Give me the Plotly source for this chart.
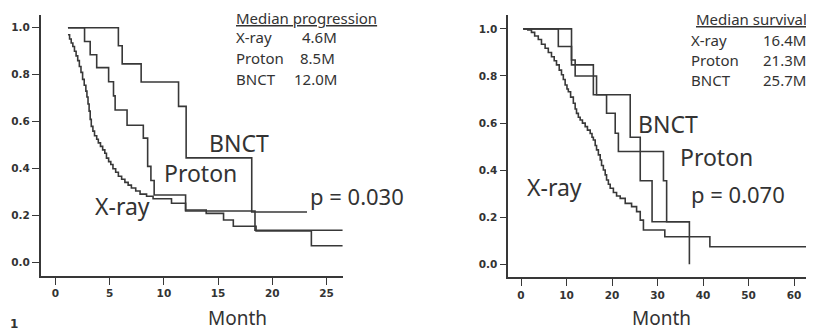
import plotly.graph_objects as go

# ---------------- data ----------------
# Left panel: progression-free (months, proportion)
prog_xray_t = [1.15, 1.3, 1.45, 1.6, 1.75, 1.9, 2.05, 2.2, 2.35, 2.5, 2.65, 2.8, 2.9, 3.0, 3.1,
               3.2, 3.3, 3.45, 3.6, 3.8, 3.95, 4.15, 4.35, 4.55, 4.7, 4.9, 5.1, 5.3, 5.55, 5.8,
               6.1, 6.4, 6.7, 7.0, 7.4, 7.8, 8.4, 9.0, 10.7, 12.0, 13.9, 15.5, 16.4, 18.5, 23.6, 26.5]
prog_xray_s = [0.97, 0.952, 0.935, 0.92, 0.90, 0.88, 0.86, 0.835, 0.81, 0.78, 0.755, 0.73, 0.705, 0.675, 0.645,
               0.61, 0.58, 0.56, 0.54, 0.525, 0.51, 0.495, 0.48, 0.466, 0.445, 0.43, 0.418, 0.40, 0.385, 0.368,
               0.355, 0.342, 0.33, 0.318, 0.305, 0.292, 0.283, 0.272, 0.253, 0.224, 0.21, 0.182, 0.155, 0.135, 0.072, 0.072]

prog_proton_t = [1.15, 2.68, 3.2, 3.8, 4.9, 5.35, 5.5, 6.6, 8.1, 8.5, 8.8, 9.1, 12.0, 18.4, 26.5]
prog_proton_s = [1.0, 0.941, 0.885, 0.83, 0.77, 0.71, 0.65, 0.585, 0.53, 0.41, 0.35, 0.288, 0.22, 0.138, 0.138]

prog_bnct_t = [1.15, 5.8, 6.15, 7.9, 11.35, 12.05, 18.1, 23.2]
prog_bnct_s = [1.0, 0.923, 0.846, 0.769, 0.665, 0.446, 0.216, 0.216]

# Right panel: overall survival (months, proportion)
surv_xray_t = [0.5, 1.5, 2.3, 3.0, 3.8, 4.5, 5.3, 6.0, 6.7, 7.3, 7.8, 8.4, 8.9, 9.3, 9.7, 10.1, 10.4,
               10.9, 11.5, 11.9, 12.2, 12.6, 13.0, 13.5, 14.1, 14.6, 15.2, 15.6, 15.9, 16.3, 16.6,
               17.0, 17.4, 17.7, 18.1, 18.5, 18.8, 19.2, 19.6, 20.3, 21.0, 21.8, 22.9, 24.3, 25.4,
               26.2, 26.9, 31.6, 41.5, 63.5]
surv_xray_s = [1.0, 0.995, 0.985, 0.97, 0.955, 0.935, 0.918, 0.90, 0.882, 0.865, 0.847, 0.825, 0.805, 0.785,
               0.762, 0.745, 0.733, 0.71, 0.684, 0.66, 0.641, 0.625, 0.613, 0.60, 0.585, 0.57, 0.556, 0.54,
               0.528, 0.505, 0.486, 0.465, 0.443, 0.42, 0.401, 0.38, 0.358, 0.34, 0.323, 0.305, 0.29,
               0.28, 0.259, 0.245, 0.224, 0.188, 0.146, 0.117, 0.075, 0.075]

surv_proton_t = [0.5, 11.1, 11.9, 16.6, 18.8, 20.7, 21.4, 31.3, 32.0, 37.0]
surv_proton_s = [1.0, 0.868, 0.80, 0.72, 0.642, 0.557, 0.479, 0.355, 0.181, 0.181]

surv_bnct_t = [0.5, 8.2, 11.1, 15.9, 24.0, 26.2, 28.8, 37.0]
surv_bnct_s = [1.0, 0.925, 0.847, 0.72, 0.54, 0.355, 0.181, 0.0]

y_ticks = [0.0, 0.2, 0.4, 0.6, 0.8, 1.0]
prog_x_ticks = [0, 5, 10, 15, 20, 25]
surv_x_ticks = [0, 10, 20, 30, 40, 50, 60]

prog_table = [("X-ray", "4.6M"), ("Proton", "8.5M"), ("BNCT", "12.0M")]
surv_table = [("X-ray", "16.4M"), ("Proton", "21.3M"), ("BNCT", "25.7M")]

# ---------------- figure ----------------
# The page body has an 8px margin, so the figure is sized/placed to compensate.
OFF = 8
W, H = 814 - OFF, 333 - OFF
def PX(x): return (x - OFF) / W
def PY(y): return 1 - (y - OFF) / H

INK = "#383838"
fig = go.Figure()

def add_curve(t, s, xa, ya):
    fig.add_trace(go.Scatter(x=t, y=s, mode="lines", xaxis=xa, yaxis=ya,
                             line=dict(shape="hv", color=INK, width=1.6),
                             showlegend=False, hoverinfo="skip"))

add_curve(prog_xray_t, prog_xray_s, "x", "y")
add_curve(prog_proton_t, prog_proton_s, "x", "y")
add_curve(prog_bnct_t, prog_bnct_s, "x", "y")
add_curve(surv_xray_t, surv_xray_s, "x2", "y2")
add_curve(surv_proton_t, surv_proton_s, "x2", "y2")
add_curve(surv_bnct_t, surv_bnct_s, "x2", "y2")

tickfont = dict(family="DejaVu Sans", size=10.5, color="#333333", weight="bold")
axis_common = dict(showline=True, linecolor=INK, linewidth=1.6, ticks="outside",
                   ticklen=7, tickwidth=1.4, tickcolor=INK, showgrid=False,
                   zeroline=False, tickfont=tickfont, fixedrange=True, automargin=False)

fig.update_layout(
    width=W, height=H, margin=dict(l=0, r=0, t=0, b=0),
    paper_bgcolor="white", plot_bgcolor="white",
    xaxis=dict(domain=[PX(40.7), PX(342.7)], range=[-1.365, 26.49], anchor="y",
               tickvals=prog_x_ticks, **axis_common),
    yaxis=dict(domain=[PY(276), PY(15)], range=[-0.0566, 1.054], anchor="x",
               tickvals=y_ticks, tickformat=".1f", **axis_common),
    xaxis2=dict(domain=[PX(508.3), PX(810)], range=[-2.79, 63.5], anchor="y2",
                tickvals=surv_x_ticks, **axis_common),
    yaxis2=dict(domain=[PY(277.3), PY(15)], range=[-0.055, 1.059], anchor="x2",
                tickvals=y_ticks, tickformat=".1f", **axis_common),
)

big = dict(family="Noto Sans", size=23, color="#333333")
mid = dict(family="Noto Sans", size=22, color="#333333")
small = dict(family="Noto Sans", size=15, color="#333333")
title_font = dict(family="Noto Sans", size=19, color="#333333")

anns = []
def ann(text, x, y, font, xanchor="center", yanchor="middle"):
    anns.append(dict(text=text, x=PX(x), y=PY(y), xref="paper", yref="paper",
                     showarrow=False, font=font, xanchor=xanchor, yanchor=yanchor))

# Left panel labels
ann("BNCT", 239, 142.5, big)
ann("Proton", 200, 173, big)
ann("X-ray", 122, 206, big)
ann("p = 0.030", 356.5, 196, mid)
ann("Month", 237.5, 318, title_font)
ann("<u>Median progression</u>", 234, 18, small, xanchor="left")
for i, (name, val) in enumerate(prog_table):
    yy = 37 + i * 21
    ann(name, 234, yy, small, xanchor="left")
    ann(val, [300, 297.7, 291.7][i], yy, small, xanchor="left")

# Right panel labels
ann("BNCT", 668, 124, big)
ann("Proton", 716, 157, big)
ann("X-ray", 554, 187, big)
ann("p = 0.070", 737.5, 194, mid)
ann("Month", 661, 318, title_font)
ann("<u>Median survival</u>", 809, 19, small, xanchor="right")
for i, (name, val) in enumerate(surv_table):
    yy = 40 + i * 20
    ann(name, 689, yy, small, xanchor="left")
    ann(val, 808, yy, small, xanchor="right")

# panel number at the bottom-left corner
ann("1", 14, 333, dict(family="DejaVu Sans", size=12, color="#333333", weight="bold"), yanchor="bottom")

fig.update_layout(annotations=anns)
fig.write_html("out.html")
